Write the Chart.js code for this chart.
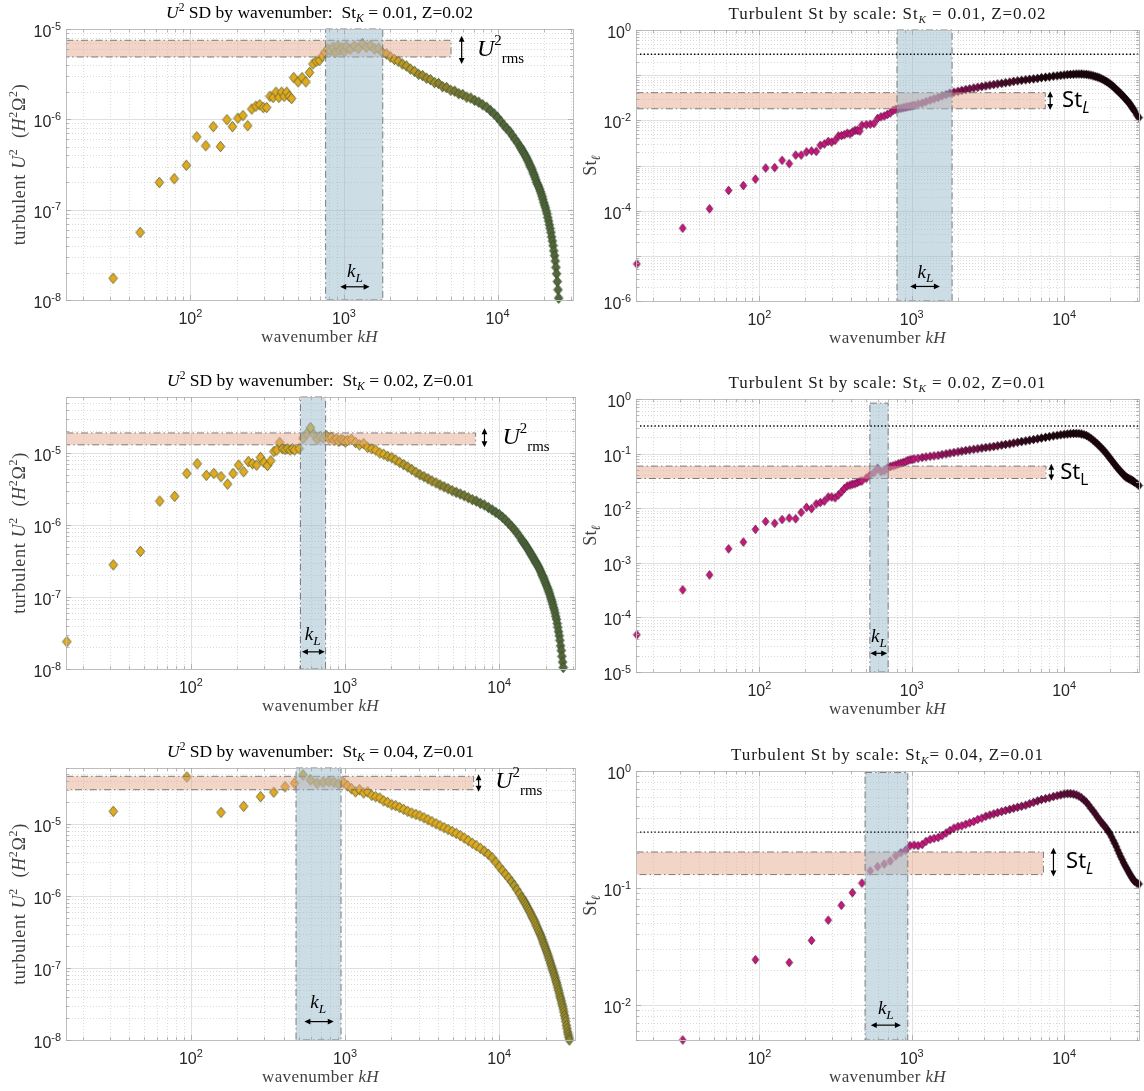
<!DOCTYPE html>
<html><head><meta charset="utf-8"><title>Turbulent spectra</title>
<script src="https://cdn.jsdelivr.net/npm/chart.js@4.4.1/dist/chart.umd.min.js"></script>
<style>
html,body{margin:0;padding:0;background:#fff;}
#wrap{position:relative;width:1144px;height:1091px;overflow:hidden;background:#fff;}
canvas{position:absolute;}
</style></head><body><div id="wrap"></div>
<script>
// ---------- axis ranges & ticks ----------
const XMIN = 15.5, XMAX = 31000;
const X_TICK_EXP = [2, 3, 4];
const Y_RANGES = [[1e-8, 1e-5], [1e-6, 1], [1e-8, 6e-5], [1e-5, 1], [1e-8, 6e-5], [5e-3, 1]];
const Y_TICK_EXP = [[-5, -6, -7, -8], [0, -2, -4, -6], [-5, -6, -7, -8], [0, -1, -2, -3, -4, -5], [-5, -6, -7, -8], [0, -1, -2]];
const ST_K = ['0.01', '0.02', '0.04'];
const ZVAL = ['0.02', '0.01', '0.01'];

// ---------- wavenumbers ----------
const K_A = [15.7, 31.4, 47.1, 62.8, 78.5, 94.2, 110, 126, 141, 157, 173, 188, 204, 220, 236, 251, 267, 283, 298, 314, 330, 346, 361, 377, 393, 408, 424, 440, 456, 471, 503, 534, 565, 597, 628, 660, 691, 723, 754, 785, 817, 848, 880, 911, 942, 974, 1005, 1037];
const K_B = [31.4, 94.2, 157, 220, 283, 345, 408, 471, 534, 597, 659, 722, 785, 848, 911, 974, 1037];
const K_HIGH = [1100, 1170, 1240, 1320, 1400, 1490, 1580, 1680, 1780, 1890, 2010, 2130, 2260, 2400, 2550, 2710, 2880, 3060, 3250, 3450, 3660, 3890, 4130, 4390, 4660, 4950, 5260, 5590, 5930, 6300, 6690, 7100, 7540, 8000, 8500, 9000, 9500, 10000, 10500, 11000, 11500, 12000, 12500, 13000, 13500, 14000, 14500, 15000, 15500, 16000, 16500, 17000, 17500, 18000, 18500, 19000, 19500, 20000, 20500, 21000, 21500, 22000, 22500, 23000, 23500, 24000, 24500, 25000, 25500, 26000, 26500, 27000, 27500, 28000, 28500, 29000, 30000, 31000];
const K_TAIL = [14250, 14750, 15250, 15750, 16250, 16750, 17250, 17750, 18250, 18750, 19250, 19750, 20250, 20750, 21250, 21750, 22250, 22750, 23250, 23750, 24250, 24750, 25250, 25750, 26250, 26750, 27250, 27750, 28250];

// ---------- row 1: St_K=0.01, Z=0.02 ----------
const U1_LOW = [null, 1.74e-8, 5.6e-8, 2.0e-7, 2.2e-7, 3.1e-7, 6.4e-7, 5.1e-7, 8.3e-7, 5.0e-7, 9.9e-7, 8.3e-7, 1.03e-6, 1.1e-6, 8.5e-7, 1.3e-6, 1.4e-6, 1.45e-6, 1.35e-6, 1.35e-6, 1.8e-6, 1.75e-6, 2.0e-6, 1.75e-6, 2.0e-6, 1.8e-6, 2.0e-6, 1.8e-6, 1.7e-6, 2.9e-6,
  2.6e-6, 2.9e-6, 2.6e-6, 3.3e-6, 4.1e-6, 4.4e-6, 4.5e-6, 5.0e-6, 5.5e-6, 6.0e-6, 5.7e-6, 6.3e-6, 5.5e-6, 6.5e-6, 5.8e-6, 6.2e-6, 5.6e-6, 6.4e-6];
const U1_HIGH = [6.0e-6, 6.5e-6, 6.1e-6, 6.9e-6, 6.3e-6, 6.6e-6, 6.0e-6, 6.1e-6, 5.5e-6, 5.3e-6, 4.9e-6, 4.6e-6, 4.4e-6, 4.1e-6, 3.9e-6, 3.6e-6, 3.4e-6, 3.15e-6, 3.05e-6, 2.85e-6, 2.75e-6, 2.55e-6, 2.5e-6, 2.3e-6, 2.25e-6, 2.1e-6, 2.05e-6, 1.92e-6, 1.88e-6, 1.76e-6, 1.72e-6, 1.62e-6, 1.55e-6, 1.45e-6, 1.36e-6, 1.25e-6, 1.15e-6, 1.05e-6,
  9.5e-7, 8.6e-7, 7.9e-7, 7.3e-7, 6.6e-7, 6.0e-7, 5.5e-7, 5.0e-7, 4.5e-7, 4.1e-7, 3.7e-7, 3.3e-7, 2.95e-7, 2.6e-7, 2.3e-7, 2.0e-7, 1.8e-7, 1.6e-7, 1.4e-7, 1.2e-7, 1.05e-7, 9e-8, 7.5e-8, 6.2e-8, 5.0e-8, 4.0e-8, 3.1e-8, 2.3e-8, 1.6e-8, 1.05e-8,
  null, null, null, null, null, null, null, null, null, null];
const U1_TAIL = [4.75e-7, 4.3e-7, 3.9e-7, 3.5e-7, 3.1e-7, 2.8e-7, 2.45e-7, 2.15e-7, 1.9e-7, 1.7e-7, 1.5e-7, 1.3e-7, 1.12e-7, 9.7e-8, 8.2e-8, 6.8e-8, 5.6e-8, 4.5e-8, 3.5e-8, 2.7e-8, 1.95e-8, 1.3e-8, null, null, null, null, null, null, null];
const S1_LOW = [6.6e-6, 4.1e-5, 1.1e-4, 2.8e-4, 3.6e-4, 5.0e-4, 8.8e-4, 9.0e-4, 1.3e-3, 1.1e-3, 1.7e-3, 1.7e-3, 2.0e-3, 2.1e-3, 2.05e-3, 2.8e-3, 3.0e-3, 3.4e-3, 3.3e-3, 3.6e-3, 4.5e-3, 4.6e-3, 4.8e-3, 5.2e-3, 5.0e-3, 5.5e-3, 6.0e-3, 6.0e-3, 5.8e-3, 7.8e-3,
  8.0e-3, 8.2e-3, 8.5e-3, 1.1e-2, 1.2e-2, 1.25e-2, 1.35e-2, 1.45e-2, 1.66e-2, 1.75e-2, 1.8e-2, 1.85e-2, 1.9e-2, 1.95e-2, 2.0e-2, 2.05e-2, 2.1e-2, 2.15e-2];
const S1_HIGH = [2.3e-2, 2.4e-2, 2.6e-2, 2.8e-2, 3.0e-2, 3.2e-2, 3.5e-2, 3.7e-2, 4.0e-2, 4.2e-2, 4.4e-2, 4.6e-2, 4.8e-2, 5.0e-2, 5.2e-2, 5.4e-2, 5.6e-2, 5.8e-2, 6.0e-2, 6.2e-2, 6.4e-2, 6.6e-2, 6.8e-2, 7.0e-2, 7.3e-2, 7.5e-2, 7.7e-2, 7.9e-2, 8.1e-2, 8.3e-2, 8.5e-2, 8.8e-2, 9.0e-2, 9.2e-2, 9.5e-2, 9.7e-2, 0.099, 0.101,
  0.103, 0.104, 0.105, 0.106, 0.106, 0.106, 0.105, 0.104, 0.102, 0.1, 0.097, 0.094, 0.091, 0.088, 0.084, 0.08, 0.076, 0.072, 0.068, 0.064, 0.06, 0.056, 0.052, 0.048, 0.045, 0.042, 0.039, 0.036, 0.034, 0.031, 0.029, 0.027, 0.025, 0.023, 0.021, 0.019, 0.0175, 0.016, 0.013, 0.0115];

// ---------- row 2: St_K=0.02, Z=0.01 ----------
const U2_LOW = [2.4e-8, 2.8e-7, 4.3e-7, 2.15e-6, 2.5e-6, 5.2e-6, 7.1e-6, 4.9e-6, 5.2e-6, 4.7e-6, 3.7e-6, 5.2e-6, 6.8e-6, 5.5e-6, 7.6e-6, 7.1e-6, 6.8e-6, 8.7e-6, 7.4e-6, 6.7e-6, 7.8e-6, 1.05e-5, 1.1e-5, 1.4e-5, 1.15e-5, 1.12e-5, 1.15e-5, 1.1e-5, 1.15e-5, 1.1e-5,
  1.15e-5, 1.6e-5, 1.85e-5, 2.25e-5, 1.8e-5, 1.55e-5, 1.7e-5, 1.62e-5, 1.75e-5, 1.6e-5, 1.65e-5, 1.5e-5, 1.58e-5, 1.45e-5, 1.55e-5, 1.5e-5, 1.42e-5, 1.5e-5];
const U2_HIGH = [1.55e-5, 1.4e-5, 1.3e-5, 1.35e-5, 1.2e-5, 1.15e-5, 1.1e-5, 1.0e-5, 9.6e-6, 9.0e-6, 8.6e-6, 8.0e-6, 7.4e-6, 6.9e-6, 6.4e-6, 5.9e-6, 5.4e-6, 5.0e-6, 4.7e-6, 4.4e-6, 4.1e-6, 3.85e-6, 3.6e-6, 3.4e-6, 3.2e-6, 3.0e-6, 2.85e-6, 2.7e-6, 2.55e-6, 2.4e-6, 2.25e-6, 2.15e-6, 2.0e-6, 1.9e-6, 1.75e-6, 1.62e-6, 1.5e-6, 1.4e-6,
  1.28e-6, 1.17e-6, 1.06e-6, 9.6e-7, 8.7e-7, 7.8e-7, 7.0e-7, 6.2e-7, 5.6e-7, 5.0e-7, 4.5e-7, 4.0e-7, 3.6e-7, 3.2e-7, 2.9e-7, 2.6e-7, 2.3e-7, 2.0e-7, 1.78e-7, 1.55e-7, 1.36e-7, 1.18e-7, 1.01e-7, 8.6e-8, 7.2e-8, 6.0e-8, 4.9e-8, 3.8e-8, 2.9e-8, 2.1e-8, 1.5e-8, 1.05e-8,
  null, null, null, null, null, null, null, null];
const U2_TAIL = [5.9e-7, 5.3e-7, 4.75e-7, 4.25e-7, 3.8e-7, 3.4e-7, 3.05e-7, 2.75e-7, 2.45e-7, 2.15e-7, 1.9e-7, 1.66e-7, 1.45e-7, 1.27e-7, 1.1e-7, 9.3e-8, 7.9e-8, 6.6e-8, 5.4e-8, 4.3e-8, 3.3e-8, 2.5e-8, 1.8e-8, 1.25e-8, null, null, null, null, null];
const S2_LOW = [4.8e-5, 3.2e-4, 6.0e-4, 1.8e-3, 2.4e-3, 4.1e-3, 5.7e-3, 5.3e-3, 6.2e-3, 6.6e-3, 6.4e-3, 8.4e-3, 1.04e-2, 9.8e-3, 1.2e-2, 1.27e-2, 1.35e-2, 1.6e-2, 1.6e-2, 1.55e-2, 1.75e-2, 2.0e-2, 2.3e-2, 2.55e-2, 2.65e-2, 2.75e-2, 2.8e-2, 2.95e-2, 3.1e-2, 3.15e-2,
  3.55e-2, 4.1e-2, 4.5e-2, 5.4e-2, 4.7e-2, 4.85e-2, 5.4e-2, 5.8e-2, 6.0e-2, 6.2e-2, 6.5e-2, 6.7e-2, 6.9e-2, 7.1e-2, 7.5e-2, 7.7e-2, 7.8e-2, 8.0e-2];
const S2_HIGH = [8.2e-2, 8.5e-2, 8.7e-2, 8.9e-2, 9.1e-2, 9.3e-2, 9.6e-2, 0.099, 0.102, 0.105, 0.108, 0.111, 0.114, 0.117, 0.12, 0.123, 0.126, 0.129, 0.132, 0.135, 0.139, 0.143, 0.147, 0.151, 0.156, 0.161, 0.166, 0.171, 0.176, 0.181, 0.187, 0.193, 0.199, 0.205, 0.211, 0.216, 0.221, 0.225,
  0.229, 0.232, 0.234, 0.234, 0.233, 0.229, 0.223, 0.214, 0.203, 0.19, 0.176, 0.163, 0.151, 0.139, 0.128, 0.118, 0.108, 0.099, 0.09, 0.082, 0.075, 0.069, 0.063, 0.058, 0.054, 0.05, 0.047, 0.044, 0.041, 0.039, 0.037, 0.036, 0.035, 0.034, 0.033, 0.032, 0.031, 0.030, 0.028, 0.026];

// ---------- row 3: St_K=0.04, Z=0.01 ----------
const U3_LOW = [1.5e-5, 4.5e-5, 1.45e-5, 1.76e-5, 2.4e-5, 2.77e-5, 3.3e-5, 3.7e-5, 4.8e-5, 4.1e-5, 3.7e-5, 3.8e-5, 3.9e-5, 3.8e-5, 3.6e-5, 3.8e-5, 3.4e-5];
const U3_HIGH = [3.1e-5, 2.8e-5, 3.0e-5, 2.7e-5, 2.8e-5, 2.5e-5, 2.4e-5, 2.3e-5, 2.1e-5, 2.0e-5, 1.85e-5, 1.8e-5, 1.7e-5, 1.6e-5, 1.5e-5, 1.42e-5, 1.36e-5, 1.3e-5, 1.22e-5, 1.15e-5, 1.08e-5, 1.01e-5, 9.5e-6, 8.9e-6, 8.4e-6, 7.9e-6, 7.4e-6, 6.9e-6, 6.4e-6, 5.9e-6, 5.4e-6, 5.0e-6, 4.6e-6, 4.2e-6, 3.8e-6, 3.4e-6, 2.95e-6, 2.55e-6,
  2.25e-6, 2.0e-6, 1.78e-6, 1.58e-6, 1.4e-6, 1.23e-6, 1.08e-6, 9.5e-7, 8.4e-7, 7.4e-7, 6.5e-7, 5.7e-7, 5.0e-7, 4.4e-7, 3.8e-7, 3.3e-7, 2.9e-7, 2.5e-7, 2.15e-7, 1.85e-7, 1.6e-7, 1.37e-7, 1.17e-7, 1.0e-7, 8.6e-8, 7.4e-8, 6.3e-8, 5.3e-8, 4.5e-8, 3.8e-8, 3.2e-8, 2.7e-8, 2.2e-8, 1.8e-8, 1.45e-8, 1.2e-8, 1.0e-8, null, null, null];
const U3_TAIL = [9.0e-7, 7.9e-7, 6.9e-7, 6.1e-7, 5.3e-7, 4.7e-7, 4.1e-7, 3.55e-7, 3.1e-7, 2.7e-7, 2.3e-7, 2.0e-7, 1.72e-7, 1.48e-7, 1.27e-7, 1.08e-7, 9.3e-8, 8.0e-8, 6.8e-8, 5.8e-8, 4.9e-8, 4.1e-8, 3.5e-8, 2.95e-8, 2.45e-8, 2.0e-8, 1.6e-8, 1.3e-8, 1.1e-8];
const S3_LOW = [5.0e-3, 2.43e-2, 2.3e-2, 3.55e-2, 5.3e-2, 7.1e-2, 9.1e-2, 0.11, 0.14, 0.152, 0.16, 0.17, 0.188, 0.2, 0.21, 0.23, 0.232];
const S3_HIGH = [0.23, 0.235, 0.25, 0.26, 0.265, 0.27, 0.28, 0.295, 0.31, 0.325, 0.335, 0.34, 0.35, 0.36, 0.37, 0.385, 0.395, 0.41, 0.42, 0.43, 0.44, 0.45, 0.46, 0.47, 0.48, 0.49, 0.5, 0.51, 0.525, 0.54, 0.555, 0.57, 0.58, 0.59, 0.605, 0.615, 0.625, 0.635,
  0.64, 0.64, 0.635, 0.625, 0.61, 0.59, 0.565, 0.54, 0.51, 0.48, 0.455, 0.43, 0.405, 0.385, 0.365, 0.35, 0.335, 0.32, 0.305, 0.29, 0.272, 0.255, 0.24, 0.225, 0.21, 0.197, 0.185, 0.175, 0.165, 0.157, 0.15, 0.143, 0.137, 0.131, 0.126, 0.121, 0.117, 0.114, 0.11, 0.108];

// ---------- annotations (data coordinates) ----------
const BLUE_X = [[760, 1790], [800, 1840], [514, 748], [531, 700], [481, 942], [494, 942]];
const BLUE_TOP = [null, null, null, 0.84, null, 0.97];
const ORANGE_Y = [[4.9e-6, 7.5e-6], [1.8e-2, 4.1e-2], [1.3e-5, 1.9e-5], [0.035, 0.059], [3.0e-5, 4.6e-5], [0.13, 0.203]];
const ORANGE_XEND = [4940, 7470, 6980, 7550, 6770, 7260];
const DOTTED_Y = [null, 0.29, null, 0.32, null, 0.30];
const ARROW_X = [5840, 8100, 8020, 8240, 7350, 8510];
const ARROW_Y = [[4.1e-6, 8.4e-6], [1.7e-2, 4.4e-2], [1.2e-5, 2.2e-5], [0.032, 0.065], [2.8e-5, 4.9e-5], [0.125, 0.22]];
const RMS_LABEL_AT = [[7340, 5.0e-6], [9700, 2.0e-2], [10500, 1.33e-5], [9420, 0.034], [9420, 3.2e-5], [10300, 0.148]];
const KL_ARROW = [[945, 1470, 1.4e-8], [975, 1530, 2.1e-6], [525, 740, 1.73e-8], [535, 690, 2.2e-5], [545, 845, 1.8e-8], [538, 849, 6.7e-3]];
const KL_LABEL_AT = [[1180, 1.8e-8], [1230, 3.3e-6], [617, 2.5e-8], [609, 3.5e-5], [670, 2.75e-8], [676, 8.3e-3]];

// ---------- layout ----------
const AREAS = [[66, 573, 29, 300], [636, 1142, 30, 301], [66, 575, 397, 669], [636, 1142, 399, 672], [66, 576, 768, 1040], [636, 1142, 771, 1040]];
const COL_BOX = [[0, 580], [578, 566]];
const ROW_BOX = [[0, 352], [352, 372], [724, 367]];

const SERIF = '"Liberation Serif","Times New Roman",serif';
const SANS = '"Liberation Sans",Arial,Helvetica,sans-serif';
const HUMAN = '"Noto Sans","Open Sans",sans-serif';

function hex(c) { return [parseInt(c.slice(1, 3), 16), parseInt(c.slice(3, 5), 16), parseInt(c.slice(5, 7), 16)]; }
function mix(a, b, t) { const A = hex(a), B = hex(b); return 'rgb(' + A.map((v, j) => Math.round(v + (B[j] - v) * t)).join(',') + ')'; }
function diamondImg(w, h, fill, stroke, lw) {
  const c = document.createElement('canvas');
  c.width = Math.ceil(w + 2); c.height = Math.ceil(h + 2);
  const g = c.getContext('2d');
  const cx = c.width / 2, cy = c.height / 2;
  g.beginPath(); g.moveTo(cx, cy - h / 2); g.lineTo(cx + w / 2, cy); g.lineTo(cx, cy + h / 2); g.lineTo(cx - w / 2, cy); g.closePath();
  g.fillStyle = fill; g.fill(); g.lineWidth = lw; g.strokeStyle = stroke; g.stroke();
  return c;
}
const LEVELS = [0, 0.15, 0.3, 0.45, 0.6, 0.75, 0.9, 1];
const YEL_IMGS = LEVELS.map(t => diamondImg(8.5, 10.5, mix('#E3AA1F', '#55663A', t), mix('#4A5A30', '#2E4A2E', t), 0.8));
const MAG_IMGS = LEVELS.map(t => diamondImg(6.6, 8.6, mix('#C8187F', '#1E050E', t), mix('#5A0F38', '#0E0306', t), 0.8));
// darkening of the dense part: [log10 k start, log10 k end, max level]
const DARK = [[3.2, 4.0, 1.0], [3.0, 3.9, 1.0], [3.2, 4.0, 1.0], [3.0, 3.9, 1.0], [3.8, 4.45, 0.5], [3.4, 4.3, 0.8]];

function pts(ks, vs) { const out = []; ks.forEach((k, j) => { if (vs[j] != null) out.push({ x: k, y: vs[j] }); }); return out; }
function byK(a, b) { return a.x - b.x; }
const SERIES = [
  pts(K_A, U1_LOW).concat(pts(K_HIGH, U1_HIGH), pts(K_TAIL, U1_TAIL)).sort(byK),
  pts(K_A, S1_LOW).concat(pts(K_HIGH, S1_HIGH)),
  pts(K_A, U2_LOW).concat(pts(K_HIGH, U2_HIGH), pts(K_TAIL, U2_TAIL)).sort(byK),
  pts(K_A, S2_LOW).concat(pts(K_HIGH, S2_HIGH)),
  pts(K_B, U3_LOW).concat(pts(K_HIGH, U3_HIGH), pts(K_TAIL, U3_TAIL)).sort(byK),
  pts(K_B, S3_LOW).concat(pts(K_HIGH, S3_HIGH))
];

// ---------- rich text ----------
function segFont(g, size, fam) { const s = g.s ? size * (g.sc || 0.66) : size; return (g.i ? 'italic ' : '') + s.toFixed(1) + 'px ' + (g.f || fam); }
function richWidth(ctx, segs, size, fam) { let w = 0; for (const g of segs) { ctx.font = segFont(g, size, fam); w += ctx.measureText(g.t).width; } return w; }
function drawRich(ctx, segs, x, y, size, fam, color, align, ls) {
  ctx.save();
  ctx.letterSpacing = (ls || 0) + 'px';
  const w = richWidth(ctx, segs, size, fam);
  let cx = align === 'center' ? x - w / 2 : (align === 'right' ? x - w : x);
  ctx.fillStyle = color; ctx.textBaseline = 'alphabetic'; ctx.textAlign = 'left';
  for (const g of segs) {
    ctx.font = segFont(g, size, fam);
    const dy = g.s === 'sup' ? -size * (g.up || 0.42) : (g.s === 'sub' ? size * (g.dn || 0.24) : 0);
    ctx.fillText(g.t, cx, y + dy);
    cx += ctx.measureText(g.t).width;
  }
  ctx.restore();
}

function titleSegs(i) {
  const r = Math.floor(i / 2);
  if (i % 2 === 0) return [{ t: 'U', i: 1 }, { t: '2', s: 'sup', up: 0.38 }, { t: ' SD by wavenumber:  St' }, { t: 'K', i: 1, s: 'sub' }, { t: ' = ' + ST_K[r] + ', Z=' + ZVAL[r] }];
  return [{ t: 'Turbulent St by scale: St' }, { t: 'K', i: 1, s: 'sub' }, { t: (r === 2 ? '= ' : ' = ') + ST_K[r] + ', Z=' + ZVAL[r] }];
}
const XLABEL = [{ t: 'wavenumber ' }, { t: 'kH', i: 1 }];
const YLABEL_U = [{ t: 'turbulent ' }, { t: 'U', i: 1 }, { t: '2', s: 'sup' }, { t: '  (' }, { t: 'H', i: 1 }, { t: '2', s: 'sup' }, { t: 'Ω' }, { t: '2', s: 'sup' }, { t: ')' }];
const YLABEL_S = [{ t: 'St' }, { t: 'ℓ', i: 1, s: 'sub', sc: 0.7 }];

function line(ctx, x1, y1, x2, y2) { ctx.beginPath(); ctx.moveTo(x1, y1); ctx.lineTo(x2, y2); ctx.stroke(); }
function arrow2(ctx, x1, y1, x2, y2) {
  const ang = Math.atan2(y2 - y1, x2 - x1), hl = 6, hw = 2.9;
  ctx.strokeStyle = '#000'; ctx.fillStyle = '#000'; ctx.lineWidth = 1.2; ctx.setLineDash([]);
  line(ctx, x1 + Math.cos(ang) * hl * 0.7, y1 + Math.sin(ang) * hl * 0.7, x2 - Math.cos(ang) * hl * 0.7, y2 - Math.sin(ang) * hl * 0.7);
  const tri = (px, py, an) => {
    ctx.beginPath(); ctx.moveTo(px, py);
    ctx.lineTo(px - Math.cos(an) * hl - Math.sin(an) * hw, py - Math.sin(an) * hl + Math.cos(an) * hw);
    ctx.lineTo(px - Math.cos(an) * hl + Math.sin(an) * hw, py - Math.sin(an) * hl - Math.cos(an) * hw);
    ctx.closePath(); ctx.fill();
  };
  tri(x2, y2, ang); tri(x1, y1, ang + Math.PI);
}

function gridValues(lo, hi) {
  const out = [];
  for (let e = Math.floor(Math.log10(lo)) - 1; e <= Math.ceil(Math.log10(hi)); e++) {
    for (let m = 1; m <= 9; m++) { const v = m * Math.pow(10, e); if (v >= lo * 0.9999 && v <= hi * 1.0001) out.push({ v, major: m === 1 }); }
  }
  return out;
}

function makePlugin(i) {
  return {
    id: 'panel' + i,
    beforeDatasetsDraw(chart) {
      const { ctx, chartArea: a, scales: { x, y } } = chart;
      ctx.save();
      ctx.beginPath(); ctx.rect(a.left, a.top, a.right - a.left, a.bottom - a.top); ctx.clip();
      const gx = gridValues(XMIN, XMAX), gy = gridValues(Y_RANGES[i][0], Y_RANGES[i][1]);
      ctx.lineWidth = 0.8; ctx.strokeStyle = '#d2d2d2'; ctx.setLineDash([1, 2]);
      for (const g of gx) if (!g.major) { const p = Math.round(x.getPixelForValue(g.v)) + 0.5; line(ctx, p, a.top, p, a.bottom); }
      for (const g of gy) if (!g.major) { const p = Math.round(y.getPixelForValue(g.v)) + 0.5; line(ctx, a.left, p, a.right, p); }
      ctx.setLineDash([]); ctx.strokeStyle = '#e0e0e0'; ctx.lineWidth = 1;
      for (const g of gx) if (g.major) { const p = Math.round(x.getPixelForValue(g.v)) + 0.5; line(ctx, p, a.top, p, a.bottom); }
      for (const g of gy) if (g.major) { const p = Math.round(y.getPixelForValue(g.v)) + 0.5; line(ctx, a.left, p, a.right, p); }
      ctx.restore();
    },
    afterDatasetsDraw(chart) {
      const { ctx, chartArea: a, scales: { x, y } } = chart;
      const X = v => x.getPixelForValue(v), Y = v => y.getPixelForValue(v);
      const isU = i % 2 === 0;
      ctx.save();
      const dashDot = [7, 3, 1.5, 3];
      // orange band
      const oy0 = Y(ORANGE_Y[i][1]), oy1 = Y(ORANGE_Y[i][0]), ox1 = X(ORANGE_XEND[i]);
      ctx.fillStyle = 'rgba(229,168,140,0.48)';
      ctx.fillRect(a.left, oy0, ox1 - a.left, oy1 - oy0);
      ctx.strokeStyle = '#6f6f6f'; ctx.lineWidth = 0.9; ctx.setLineDash(dashDot);
      ctx.strokeRect(a.left + 0.5, oy0, ox1 - a.left, oy1 - oy0);
      // blue band
      const bx0 = X(BLUE_X[i][0]), bx1 = X(BLUE_X[i][1]);
      const by0 = BLUE_TOP[i] ? Y(BLUE_TOP[i]) : a.top, by1 = a.bottom;
      ctx.fillStyle = 'rgba(148,184,202,0.48)';
      ctx.fillRect(bx0, by0, bx1 - bx0, by1 - by0);
      ctx.strokeRect(bx0, by0, bx1 - bx0, by1 - by0);
      // dotted reference line
      if (DOTTED_Y[i]) {
        ctx.setLineDash([1.4, 2.2]); ctx.strokeStyle = '#000'; ctx.lineWidth = 1.4;
        const py = Y(DOTTED_Y[i]); line(ctx, a.left + 4, py, a.right, py);
      }
      ctx.setLineDash([]);
      // axis box and ticks
      ctx.strokeStyle = '#bdbdbd'; ctx.lineWidth = 1;
      ctx.strokeRect(Math.round(a.left) + 0.5, Math.round(a.top) + 0.5, Math.round(a.right - a.left), Math.round(a.bottom - a.top));
      ctx.strokeStyle = '#a6a6a6'; ctx.lineWidth = 0.8;
      for (const g of gridValues(XMIN, XMAX)) { const p = Math.round(X(g.v)) + 0.5, L = g.major ? 5 : 3; line(ctx, p, a.bottom, p, a.bottom - L); line(ctx, p, a.top, p, a.top + L); }
      for (const g of gridValues(Y_RANGES[i][0], Y_RANGES[i][1])) { const p = Math.round(Y(g.v)) + 0.5, L = g.major ? 5 : 3; line(ctx, a.left, p, a.left + L, p); line(ctx, a.right, p, a.right - L, p); }
      // rms / St_L arrow + label
      arrow2(ctx, X(ARROW_X[i]), Y(ARROW_Y[i][0]), X(ARROW_X[i]), Y(ARROW_Y[i][1]));
      const [lx, ly] = RMS_LABEL_AT[i];
      if (isU) drawRich(ctx, [{ t: 'U', i: 1 }, { t: '2', s: 'sup', sc: 0.62, up: 0.45 }, { t: 'rms', s: 'sub', sc: 0.62, dn: 0.3 }], X(lx), Y(ly), 24, SERIF, '#000', 'left');
      else drawRich(ctx, [{ t: 'St' }, { t: 'L', i: i !== 3, s: 'sub', sc: 0.7, dn: 0.28 }], X(lx), Y(ly), 22, HUMAN, '#000', 'left');
      // k_L arrow + label
      arrow2(ctx, X(KL_ARROW[i][0]), Y(KL_ARROW[i][2]), X(KL_ARROW[i][1]), Y(KL_ARROW[i][2]));
      drawRich(ctx, [{ t: 'k', i: 1 }, { t: 'L', i: 1, s: 'sub', sc: 0.7, dn: 0.25 }], X(KL_LABEL_AT[i][0]), Y(KL_LABEL_AT[i][1]), 19, SERIF, '#000', 'center');
      // tick labels
      for (const e of X_TICK_EXP) drawRich(ctx, [{ t: '10' }, { t: String(e), s: 'sup', sc: 0.68, up: 0.45 }], X(Math.pow(10, e)), a.bottom + 24, 16, SANS, '#262626', 'center');
      for (const e of Y_TICK_EXP[i]) drawRich(ctx, [{ t: '10' }, { t: String(e), s: 'sup', sc: 0.68, up: 0.45 }], a.left - 5, Y(Math.pow(10, e)) + 8, 16, SANS, '#262626', 'right');
      // axis titles
      drawRich(ctx, XLABEL, (a.left + a.right) / 2, a.bottom + 42, 17, SERIF, '#404040', 'center', 0.4);
      ctx.save();
      ctx.translate(isU ? a.left - 41 : a.left - 40, (a.top + a.bottom) / 2);
      ctx.rotate(-Math.PI / 2);
      drawRich(ctx, isU ? YLABEL_U : YLABEL_S, 0, 0, 18, SERIF, '#404040', 'center', isU ? 0.7 : 0);
      ctx.restore();
      // title
      if (isU) drawRich(ctx, titleSegs(i), (a.left + a.right) / 2, a.top - 11, 17.5, SERIF, '#000', 'center', 0);
      else drawRich(ctx, titleSegs(i), (a.left + a.right) / 2, a.top - 11, 17, SERIF, '#1a1a1a', 'center', 0.9);
      ctx.restore();
    }
  };
}

const wrap = document.getElementById('wrap');
for (let i = 0; i < 6; i++) {
  const col = i % 2, row = Math.floor(i / 2);
  const [cx, cw] = COL_BOX[col], [cy, ch] = ROW_BOX[row];
  const [L, R, T, B] = AREAS[i];
  const cv = document.createElement('canvas');
  cv.width = cw; cv.height = ch;
  cv.style.left = cx + 'px'; cv.style.top = cy + 'px'; cv.style.width = cw + 'px'; cv.style.height = ch + 'px';
  wrap.appendChild(cv);
  const isU = col === 0;
  const imgs = isU ? YEL_IMGS : MAG_IMGS;
  const [d0, d1, dmax] = DARK[i];
  new Chart(cv, {
    type: 'scatter',
    data: {
      datasets: [{
        data: SERIES[i],
        showLine: false,
        clip: false,
        pointRadius: 4,
        pointStyle: (c) => {
          const k = c.raw ? c.raw.x : 100;
          const t = Math.max(0, Math.min(1, (Math.log10(k) - d0) / (d1 - d0))) * dmax;
          return imgs[Math.round(t * (LEVELS.length - 1))];
        }
      }]
    },
    options: {
      responsive: false, animation: false, events: [],
      devicePixelRatio: 1,
      layout: { padding: { left: L - cx, right: cx + cw - R, top: T - cy, bottom: cy + ch - B } },
      plugins: { legend: { display: false }, tooltip: { enabled: false }, title: { display: false } },
      scales: {
        x: { type: 'logarithmic', min: XMIN, max: XMAX, display: false },
        y: { type: 'logarithmic', min: Y_RANGES[i][0], max: Y_RANGES[i][1], display: false }
      }
    },
    plugins: [makePlugin(i)]
  });
}
</script>
</body></html>
